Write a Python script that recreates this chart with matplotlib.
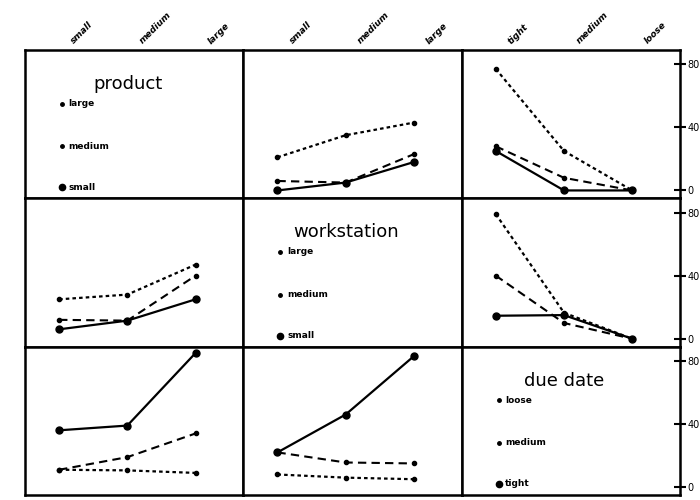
import numpy as np
import matplotlib
matplotlib.use("Agg")
from matplotlib import pyplot as plt
from matplotlib.transforms import blended_transform_factory

# factor names and levels
factors = ["product", "workstation", "due date"]
size_levels = ["small", "medium", "large"]
due_levels = ["tight", "medium", "loose"]
x_levels = [size_levels, size_levels, due_levels]

# legend order on the diagonal (top to bottom)
legend_levels = [["large", "medium", "small"],
                 ["large", "medium", "small"],
                 ["loose", "medium", "tight"]]

# cell means, one dict per off-diagonal panel (row factor = trace, col factor = x)
prod_by_ws = {"large": [21, 35, 43], "medium": [6, 5, 23], "small": [0, 5, 18]}
prod_by_due = {"large": [77, 25, 0], "medium": [28, 8, 0], "small": [25, 0, 0]}
ws_by_prod = {"large": [25, 28, 47], "medium": [12, 11.5, 40], "small": [6, 11.5, 25]}
ws_by_due = {"large": [79, 16.5, 0], "medium": [40, 10, 0], "small": [14.6, 15, 0]}
due_by_prod = {"loose": [11, 10.6, 9], "medium": [11, 19, 34], "tight": [36, 39, 85]}
due_by_ws = {"loose": [8, 6, 5], "medium": [22, 15.6, 15], "tight": [22, 46, 83]}

panels = {(0, 1): prod_by_ws, (0, 2): prod_by_due,
          (1, 0): ws_by_prod, (1, 2): ws_by_due,
          (2, 0): due_by_prod, (2, 1): due_by_ws}

y_ticks = [0, 40, 80]

# line style per legend position: first = dotted, second = dashed, third = solid
styles = [dict(dashes=(1.6, 1.4), lw=1.6, ms=3),
          dict(dashes=(4, 2.5), lw=1.5, ms=3),
          dict(linestyle="-", lw=1.6, ms=5)]

fig = plt.figure(figsize=(7, 5), dpi=100)
fig.patch.set_facecolor("white")
gs = fig.add_gridspec(3, 3, left=25 / 700, right=680 / 700, top=1 - 50 / 500,
                      bottom=1 - 495 / 500, wspace=0, hspace=0)

for r in range(3):
    for c in range(3):
        ax = fig.add_subplot(gs[r, c])
        ax.set_xlim(-0.5, 2.7)
        ax.set_ylim(-5, 89)
        for s in ax.spines.values():
            s.set_linewidth(1.8)
        ax.set_xticks([])
        ax.set_yticks([])

        if r == c:
            ax.text(0.47, 0.77, factors[r], transform=ax.transAxes,
                    ha="center", va="center", fontsize=13)
            tr = blended_transform_factory(ax.transAxes, ax.transData)
            for k, (lev, yv) in enumerate(zip(legend_levels[r], [55, 28, 2])):
                ax.plot([0.17], [yv], "o", color="black", ms=styles[k]["ms"] - 0.5,
                        transform=tr, clip_on=False)
                ax.text(0.2, yv, lev, transform=tr, ha="left", va="center",
                        fontsize=6.5, fontweight="bold")
        else:
            data = panels[(r, c)]
            xs = np.arange(3)
            for k, lev in enumerate(legend_levels[r]):
                st = styles[k]
                kw = dict(color="black", lw=st["lw"], marker="o", ms=st["ms"],
                          clip_on=False)
                if "dashes" in st:
                    kw["dashes"] = st["dashes"]
                else:
                    kw["linestyle"] = st["linestyle"]
                ax.plot(xs, data[lev], **kw)

        if r == 0:
            tr = blended_transform_factory(ax.transData, ax.transAxes)
            for i, lab in enumerate(x_levels[c]):
                ax.annotate(lab, xy=(i, 1), xycoords=tr, xytext=(12, 3),
                            textcoords="offset points", rotation=45,
                            rotation_mode="anchor", ha="left", va="bottom",
                            fontsize=6.5, fontstyle="italic", fontweight="bold")

        if c == 2:
            ax.yaxis.tick_right()
            ax.set_yticks(y_ticks)
            ax.tick_params(axis="y", direction="inout", length=9, width=1.5,
                           labelsize=7, pad=1)

fig.savefig("out.png", dpi=100, facecolor="white")
